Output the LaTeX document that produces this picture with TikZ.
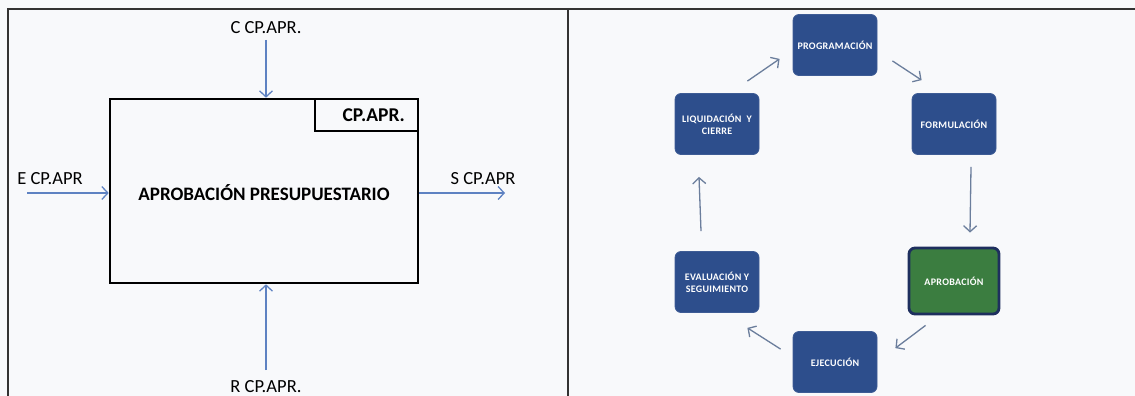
\documentclass[tikz,border=0pt]{standalone}
\usepackage{fontspec}
\setmainfont{Carlito}
\usetikzlibrary{arrows.meta,calc}
\definecolor{boxblue}{HTML}{2D4E8C}
\definecolor{boxedge}{HTML}{3E5C95}
\definecolor{okgreen}{HTML}{3B7D40}
\definecolor{navy}{HTML}{1E2F5E}
\definecolor{lblue}{HTML}{5E82C2}
\definecolor{rarrow}{HTML}{6B7E9C}
\definecolor{framec}{HTML}{333333}
\definecolor{paper}{HTML}{F8F9FB}
\tikzset{
  frameline/.style={draw=framec, line width=1.6pt},
  idefbox/.style={draw=black, line width=2.6pt, minimum width=308pt, minimum height=184pt, inner sep=0pt},
  tagbox/.style={draw=black, line width=2.2pt, minimum width=103pt, minimum height=32pt, inner sep=0pt, font=\fontsize{19.5}{22}\selectfont\bfseries},
  lbl/.style={font=\fontsize{18.5}{22}\selectfont, inner sep=0pt},
  larrow/.style={draw=lblue, line width=1.3pt, -{Straight Barb[length=6pt,width=13pt,line width=1.3pt]}},
  rarr/.style={draw=rarrow, line width=1.3pt, -{Straight Barb[length=6pt,width=13pt,line width=1.3pt]}},
  phase/.style={rounded corners=6pt, fill=boxblue, draw=boxedge, line width=0.8pt, minimum width=84pt, minimum height=61pt, inner sep=1pt, align=center, text=white, font=\fontsize{10}{12}\selectfont\bfseries\addfontfeature{LetterSpace=3}},
  phasegreen/.style={phase, fill=okgreen, draw=navy, line width=2.8pt, minimum width=90pt, minimum height=66pt}
}
\begin{document}
\begin{tikzpicture}[x=1pt,y=-1pt]
\useasboundingbox (0,0) rectangle (1135,396);
\fill[paper] (0,0) rectangle (1135,396);
% frame
\coordinate (ftl) at (8,9);
\coordinate (ftr) at (1135,9);
\coordinate (fbl) at (8,396);
\coordinate (dtop) at (568,9);
\coordinate (dbot) at (568,396);
\draw[frameline] (fbl) -- (ftl) -- (ftr);
\draw[frameline] (dtop) -- (dbot);

% left panel
\node[idefbox] (main) at (264,191) {};
\node[lbl, font=\fontsize{19}{22}\selectfont\bfseries] (title) at (264,193) {APROBACIÓN PRESUPUESTARIO};
\node[tagbox, anchor=north east] (tag) at (main.north east) {\hspace*{14pt}CP.APR.};

\coordinate (cin) at (266,40);
\coordinate (ein) at (27,193);
\coordinate (sout) at (505,193);
\coordinate (rin) at (266,370);
\draw[larrow] (cin) -- (cin |- main.north);
\draw[larrow] (ein) -- (ein -| main.west);
\draw[larrow] (main.east |- sout) -- (sout);
\draw[larrow] (rin) -- (rin |- main.south);

\node[lbl] (clbl) at (266,28) {C CP.APR.};
\node[lbl] (elbl) at (50,179) {E CP.APR};
\node[lbl] (slbl) at (483,179) {S CP.APR};
\node[lbl] (rlbl) at (266,387) {R CP.APR.};

% right panel
\node[phase] (prog) at (835,45) {PROGRAMACIÓN};
\node[phase] (form) at (954,124) {FORMULACIÓN};
\node[phasegreen] (apro) at (954,281) {APROBACIÓN};
\node[phase] (ejec) at (835,362) {EJECUCIÓN};
\node[phase] (eval) at (717,282) {EVALUACIÓN Y\\SEGUIMIENTO};
\node[phase] (liq) at (717,124) {LIQUIDACIÓN \ Y\\CIERRE};

\draw[rarr] ($(liq.north east)+(-12,-12)$) -- ($(prog.south west)+(-13,-17)$);
\draw[rarr] ($(prog.south east)+(15,-15)$) -- ($(form.north west)+(10,-13)$);
\draw[rarr] ($(form.south)+(17,12)$) -- ($(apro.north)+(16,-14)$);
\draw[rarr] ($(apro.south west)+(18,10)$) -- ($(ejec.north east)+(18,17)$);
\draw[rarr] ($(ejec.north west)+(-12,18)$) -- ($(eval.south east)+(-12,15)$);
\draw[rarr] ($(eval.north)+(-16,-20)$) -- ($(liq.south)+(-18,22)$);
\end{tikzpicture}
\end{document}
